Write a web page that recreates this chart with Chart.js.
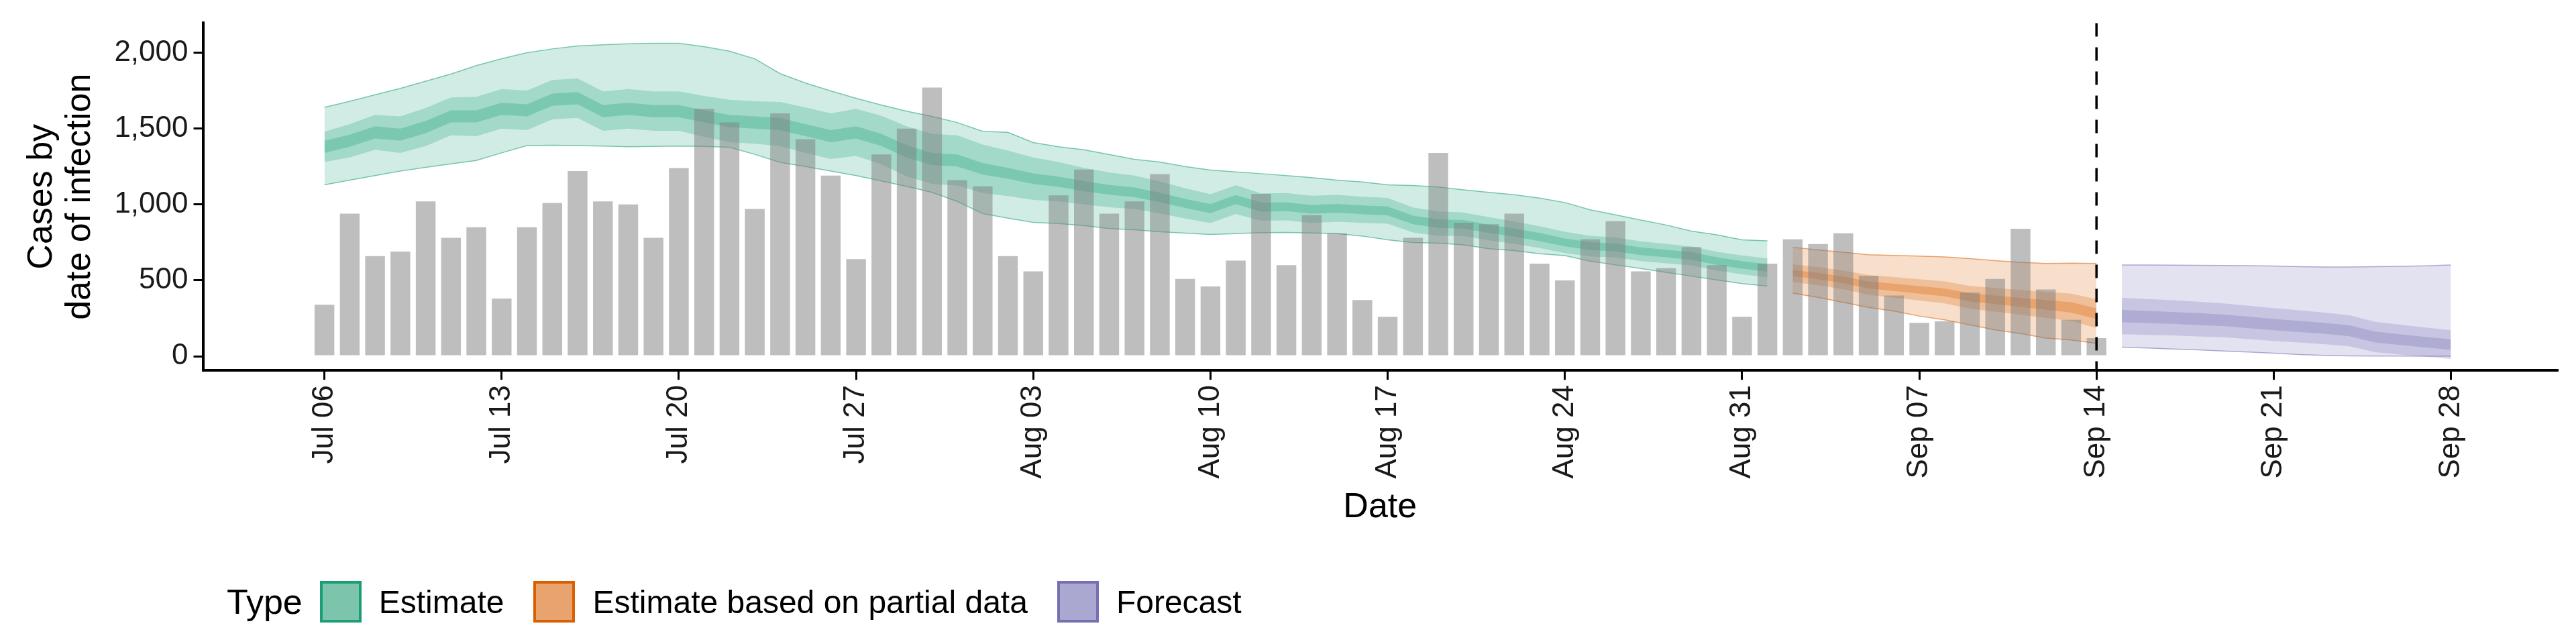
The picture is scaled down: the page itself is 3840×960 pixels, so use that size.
<!DOCTYPE html>
<html>
<head>
<meta charset="utf-8">
<script src="https://cdn.jsdelivr.net/npm/chart.js@4.4.1/dist/chart.umd.min.js"></script>
<style>
  html, body { margin: 0; padding: 0; background: #fff; }
  #wrap { position: relative; width: 3840px; height: 960px; }
  #legend { position: absolute; left: 338px; top: 866px; font-family: "Liberation Sans", Arial, sans-serif; font-size: 48px; display: flex; align-items: center; }
  #legend .title { margin-right: 26px; font-size: 52px; }
  #legend .box { width: 62px; height: 62px; box-sizing: border-box; border: 4px solid; margin-right: 26px; }
  #legend .item { display: flex; align-items: center; margin-right: 44px; }
</style>
</head>
<body>
<div id="wrap">
  <canvas id="chart" width="3840" height="960"></canvas>
  <div id="legend">
    <span class="title">Type</span>
    <span class="item"><span class="box" style="background:#7cc5ac;border-color:#1b9e77"></span>Estimate</span>
    <span class="item"><span class="box" style="background:#e9a36f;border-color:#d95f02"></span>Estimate based on partial data</span>
    <span class="item"><span class="box" style="background:#aaa7d1;border-color:#7570b3"></span>Forecast</span>
  </div>
</div>
<script>
// Days counted from Jul 06 (day 0) to Sep 28 (day 84)
const startDate = new Date(2020, 6, 6);
const monthNames = ['Jan','Feb','Mar','Apr','May','Jun','Jul','Aug','Sep','Oct','Nov','Dec'];

// Reported cases by day, Jul 06 .. Sep 14
const cases = [340, 940, 660, 690, 1020, 780, 850, 380, 850, 1010, 1220, 1020, 1000, 780,
  1240, 1630, 1540, 970, 1600, 1430, 1190, 640, 1330, 1500, 1770, 1160,
  1120, 660, 560, 1060, 1230, 940, 1020, 1200, 510, 460, 630, 1070, 600, 930, 810, 370, 260,
  780, 1340, 880, 870, 940, 610, 500, 770, 890, 560, 580, 720, 600, 260,
  610, 770, 740, 810, 530, 400, 220, 230, 420, 510, 840, 440, 240, 120];

// Estimate, Jul 06 .. Sep 01
const estMedian = [1380, 1420, 1475, 1460, 1510, 1580, 1580, 1630, 1620, 1690, 1700, 1615, 1630,
  1615, 1615, 1580, 1550, 1540, 1530, 1490, 1450, 1475, 1425, 1350, 1300, 1290,
  1235, 1205, 1170, 1150, 1121, 1096, 1080, 1047, 1007, 973, 1032, 983, 985, 968, 975, 965,
  958, 898, 874, 869, 840, 815, 785, 750, 726, 717, 692, 677, 661, 627, 602, 582];
const estHi90 = [1640, 1680, 1723, 1765, 1812, 1860, 1915, 1960, 2000, 2025, 2044, 2052, 2059,
  2062, 2062, 2040, 2010, 1960, 1862, 1800, 1748, 1700, 1655, 1615, 1580, 1540,
  1482, 1475, 1408, 1380, 1360, 1330, 1297, 1280, 1250, 1227, 1215, 1203, 1190, 1177, 1160,
  1148, 1130, 1125, 1115, 1096, 1080, 1064, 1042, 1013, 965, 932, 898, 865, 825, 800, 767, 760];
const estLo90 = [1130, 1160, 1190, 1220, 1244, 1268, 1290, 1340, 1388, 1390, 1388, 1385, 1380,
  1382, 1385, 1383, 1377, 1330, 1278, 1250, 1220, 1190, 1155, 1120, 1080, 1020,
  940, 910, 882, 874, 861, 841, 833, 820, 811, 803, 808, 815, 816, 813, 808, 792, 767, 750,
  745, 734, 709, 696, 676, 663, 627, 602, 578, 553, 528, 503, 479, 462];
// half widths of the 50% and 20% bands
const estW50 = [100, 110, 115, 120, 125, 125, 130, 130, 130, 130, 130, 130, 130, 130, 130, 135,
  140, 140, 145, 150, 150, 155, 160, 165, 165, 165,
  160, 150, 140, 130, 120, 115, 110, 105, 100, 95, 95, 90, 90, 90, 88, 86, 85, 82, 80, 78,
  76, 74, 72, 70, 68, 66, 65, 64, 63, 62, 62, 62];
const estW20 = [40, 40, 40, 40, 40, 40, 40, 40, 40, 40, 40, 40, 40, 40, 40, 40, 40, 40, 40, 40,
  40, 40, 40, 40, 40, 40,
  38, 36, 35, 34, 33, 32, 32, 31, 30, 30, 30, 30, 29, 29, 29, 29, 29, 28, 28, 28, 27, 27,
  27, 26, 26, 26, 25, 25, 25, 25, 25, 25];

// Estimate based on partial data, Sep 02 .. Sep 14
const partMedian = [548, 528, 503, 470, 454, 437, 421, 388, 372, 355, 339, 322, 281];
const partHi90 = [718, 701, 685, 669, 664, 660, 655, 643, 630, 619, 611, 614, 611];
const partLo90 = [416, 388, 355, 322, 298, 265, 240, 207, 174, 150, 120, 108, 84];
const partW50 = [58, 60, 62, 65, 68, 70, 72, 75, 78, 82, 86, 90, 95];
const partW20 = [20, 21, 22, 23, 24, 25, 26, 27, 28, 30, 32, 34, 35];

// Forecast, Sep 15 .. Sep 28
const fcMedian = [265, 259, 253, 245, 237, 223, 209, 197, 184, 168, 127, 110, 93, 77];
const fcHi90 = [601, 601, 600, 599, 598, 597, 595, 590, 588, 588, 590, 593, 596, 601];
const fcLo90 = [60, 55, 48, 42, 35, 28, 20, 12, 6, 3, 2, 1, 0, 0];
const fcW50 = [120, 118, 116, 114, 112, 110, 108, 106, 104, 102, 100, 98, 96, 95];
const fcW20 = [40, 40, 39, 39, 38, 38, 37, 37, 36, 36, 36, 35, 35, 35];

const yTicks = [0, 500, 1000, 1500, 2000];
const xTickDays = [0, 7, 14, 21, 28, 35, 42, 49, 56, 63, 70, 77, 84];
const cutoffDay = 70; // Sep 14

function dayLabel(d) {
  const dt = new Date(startDate.getTime() + d * 86400000);
  return monthNames[dt.getMonth()] + ' ' + String(dt.getDate()).padStart(2, '0');
}

function pts(arr, offset) {
  return arr.map((v, i) => ({ x: offset + i, y: v }));
}
function shifted(med, w, sign, offset) {
  return med.map((v, i) => ({ x: offset + i, y: v + sign * w[i] }));
}

function ribbon(name, med, hi90, lo90, w50, w20, offset, rgb) {
  const c = (a) => `rgba(${rgb},${a})`;
  const base = { type: 'line', pointRadius: 0, tension: 0, order: 2, borderWidth: 0 };
  return [
    { ...base, label: name + ' lo90', data: pts(lo90, offset), borderColor: c(0.55), borderWidth: 1.5 },
    { ...base, label: name + ' hi90', data: pts(hi90, offset), borderColor: c(0.55), borderWidth: 1.5,
      fill: '-1', backgroundColor: c(0.2) },
    { ...base, label: name + ' lo50', data: shifted(med, w50, -1, offset), borderColor: 'transparent' },
    { ...base, label: name + ' hi50', data: shifted(med, w50, 1, offset), borderColor: 'transparent',
      fill: '-1', backgroundColor: c(0.25) },
    { ...base, label: name + ' lo20', data: shifted(med, w20, -1, offset), borderColor: 'transparent' },
    { ...base, label: name + ' hi20', data: shifted(med, w20, 1, offset), borderColor: 'transparent',
      fill: '-1', backgroundColor: c(0.3) }
  ];
}

const cutoffLine = {
  id: 'cutoffLine',
  afterDatasetsDraw(chart) {
    const { ctx, chartArea, scales } = chart;
    const x = scales.x.getPixelForValue(cutoffDay);
    ctx.save();
    ctx.strokeStyle = '#000';
    ctx.lineWidth = 3.5;
    ctx.setLineDash([20, 16]);
    ctx.beginPath();
    ctx.moveTo(x, chartArea.top);
    ctx.lineTo(x, chartArea.bottom);
    ctx.stroke();
    ctx.restore();
  }
};

const font = "'Liberation Sans', Arial, sans-serif";

new Chart(document.getElementById('chart'), {
  data: {
    datasets: [
      { type: 'bar', label: 'Cases', data: pts(cases, 0), backgroundColor: 'rgba(125,125,125,0.5)',
        barPercentage: 0.78, categoryPercentage: 1, order: 0 },
      ...ribbon('Estimate', estMedian, estHi90, estLo90, estW50, estW20, 0, '27,158,119'),
      ...ribbon('Partial', partMedian, partHi90, partLo90, partW50, partW20, 58, '217,95,2'),
      ...ribbon('Forecast', fcMedian, fcHi90, fcLo90, fcW50, fcW20, 71, '117,112,179')
    ]
  },
  options: {
    responsive: false,
    animation: false,
    layout: { padding: { left: 30, right: 28, top: 28, bottom: 168 } },
    plugins: { legend: { display: false }, tooltip: { enabled: false } },
    scales: {
      x: {
        type: 'linear', min: -4.8, max: 88.2, offset: false,
        afterBuildTicks: (s) => { s.ticks = xTickDays.map(v => ({ value: v })); },
        ticks: { callback: (v) => dayLabel(v), color: '#1a1a1a', font: { family: font, size: 44 },
          minRotation: 90, maxRotation: 90, padding: 8 },
        grid: { display: true, offset: false, drawOnChartArea: false, color: '#000', lineWidth: 3, tickLength: 14 },
        border: { display: true, color: '#000', width: 4 },
        title: { display: true, text: 'Date', color: '#000', font: { family: font, size: 52 }, padding: { top: 4 } }
      },
      y: {
        min: -93, max: 2195,
        afterBuildTicks: (s) => { s.ticks = yTicks.map(v => ({ value: v })); },
        ticks: { callback: (v) => v.toLocaleString('en-US'), color: '#1a1a1a', font: { family: font, size: 44 }, padding: 8 },
        grid: { display: true, drawOnChartArea: false, color: '#000', lineWidth: 3, tickLength: 14 },
        border: { display: true, color: '#000', width: 4 },
        title: { display: true, text: ['Cases by', 'date of infection'], color: '#000',
          font: { family: font, size: 52, lineHeight: 1.1 }, padding: { bottom: 14 } }
      }
    }
  },
  plugins: [cutoffLine]
});
</script>
</body>
</html>
